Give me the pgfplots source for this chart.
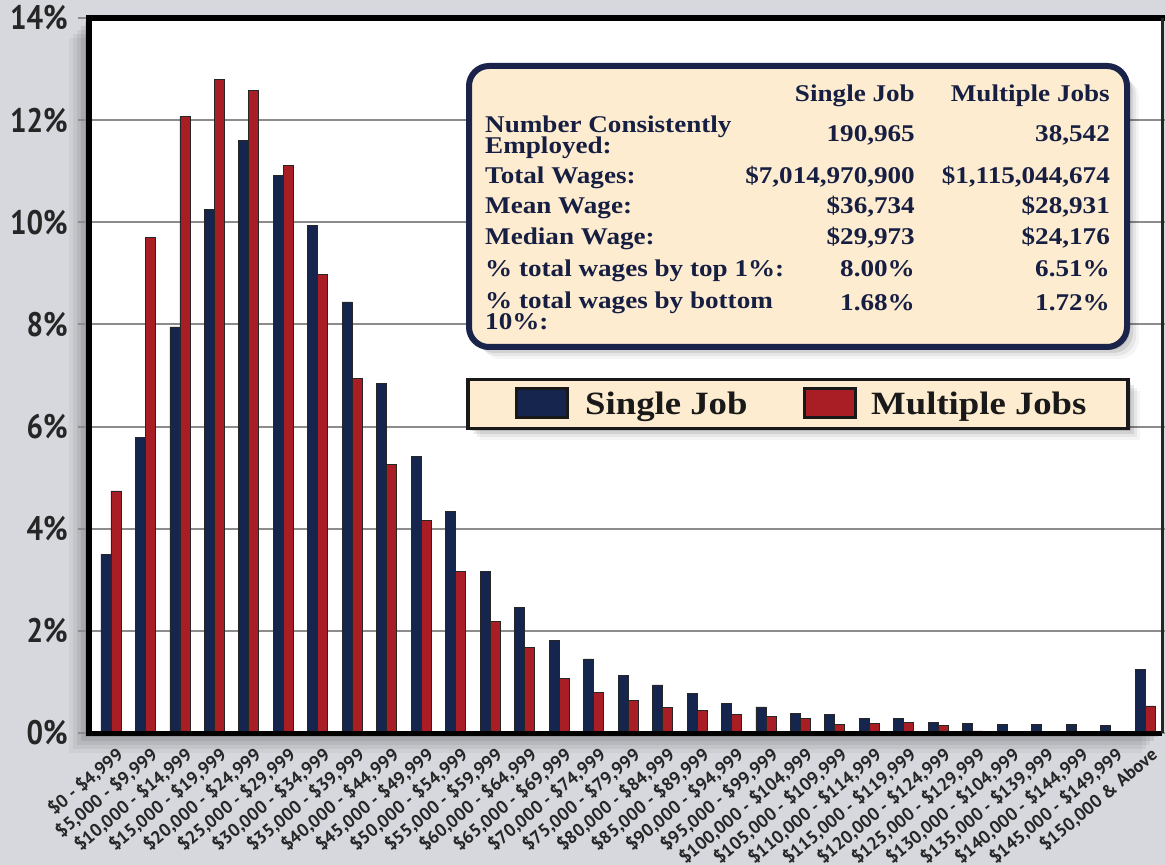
\documentclass[border=0pt]{standalone}
\usepackage{pgfplots}
\pgfplotsset{compat=1.18}
\usepackage{pgfplotstable}
\usepackage{fontspec}
\setmainfont{Liberation Serif}
\newfontfamily\tickfont{PT Sans}
\newfontfamily\ytickfont[FakeStretch=0.86]{PT Sans}
\newfontfamily\boxfont[FakeStretch=1.13]{Liberation Serif}
\definecolor{bg}{RGB}{214,216,221}
\definecolor{navybar}{RGB}{22,37,78}
\definecolor{redbar}{RGB}{168,30,36}
\definecolor{cream}{RGB}{253,236,208}
\definecolor{boxnavy}{RGB}{26,36,74}
\definecolor{txtnavy}{RGB}{22,30,66}
\definecolor{gridgray}{RGB}{140,140,140}

\pgfplotstableread{
x s m
0 3.50 4.74
1 5.78 9.70
2 7.95 12.07
3 10.26 12.80
4 11.61 12.59
5 10.92 11.11
6 9.93 8.97
7 8.44 6.95
8 6.84 5.26
9 5.41 4.16
10 4.34 3.17
11 3.17 2.19
12 2.46 1.68
13 1.82 1.07
14 1.45 0.80
15 1.12 0.63
16 0.94 0.50
17 0.77 0.44
18 0.57 0.37
19 0.51 0.32
20 0.39 0.28
21 0.36 0.17
22 0.29 0.18
23 0.29 0.20
24 0.20 0.14
25 0.18 0.04
26 0.17 0.02
27 0.16 0.02
28 0.16 0.02
29 0.14 0.02
30 1.25 0.53
}\datatable

\begin{document}
\begin{tikzpicture}
\useasboundingbox (0,0) rectangle (1165pt,865pt);
\fill[bg] (0,0) rectangle (1165pt,865pt);
% soft shadow of plot area
\foreach \d/\o in {4/0.10,8/0.08,12/0.06,16/0.05,20/0.04}{
  \fill[black,opacity=\o] ({89pt-\d pt},{132pt-\d pt}) rectangle ({1162pt-\d pt},{847pt-\d pt});
}
\begin{axis}[
  at={(89pt,132pt)}, anchor=south west,
  scale only axis, width=1073pt, height=715pt,
  xmin=-0.638, xmax=30.49, ymin=0, ymax=14,
  axis background/.style={fill=white},
  axis line style={draw=none},
  ybar=0pt, bar width=10pt,
  ymajorgrids, grid style={gridgray, line width=2pt},
  ytick={0,2,4,6,8,10,12,14},
  yticklabels={0\%,2\%,4\%,6\%,8\%,10\%,12\%,14\%},
  tick align=outside, major tick length=11pt,
  ytick style={gridgray, line width=2pt},
  xtick={0,...,30}, xtick style={draw=none},
  xticklabels={{\$0 - \$4,999},{\$5,000 - \$9,999},{\$10,000 - \$14,999},{\$15,000 - \$19,999},{\$20,000 - \$24,999},{\$25,000 - \$29,999},{\$30,000 - \$34,999},{\$35,000 - \$39,999},{\$40,000 - \$44,999},{\$45,000 - \$49,999},{\$50,000 - \$54,999},{\$55,000 - \$59,999},{\$60,000 - \$64,999},{\$65,000 - \$69,999},{\$70,000 - \$74,999},{\$75,000 - \$79,999},{\$80,000 - \$84,999},{\$85,000 - \$89,999},{\$90,000 - \$94,999},{\$95,000 - \$99,999},{\$100,000 - \$104,999},{\$105,000 - \$109,999},{\$110,000 - \$114,999},{\$115,000 - \$119,999},{\$120,000 - \$124,999},{\$125,000 - \$129,999},{\$130,000 - \$104,999},{\$135,000 - \$139,999},{\$140,000 - \$144,999},{\$145,000 - \$149,999},{\$150,000 \& Above}},
  x tick label style={font=\tickfont\bfseries\fontsize{18}{18}\selectfont, text=black!85, rotate=40, anchor=north east, xshift=2pt, yshift=-4pt, inner sep=0pt},
  y tick label style={font=\ytickfont\bfseries\fontsize{34}{34}\selectfont, text=black!85, anchor=east, inner sep=0pt, xshift=-10pt},
  clip=false,
]
\addplot[fill=navybar, draw=black!85, line width=0.8pt] table[x=x,y=s]{\datatable};
\addplot[fill=redbar, draw=black!85, line width=0.8pt] table[x=x,y=m]{\datatable};
\draw[black, line width=6pt, line cap=rect] (rel axis cs:0,0) -- (rel axis cs:0,1) -- (rel axis cs:1,1);
\draw[black, line width=5pt] (rel axis cs:0,0) -- (rel axis cs:1,0);
\draw[black!85, line width=3pt] (rel axis cs:1,0) -- (rel axis cs:1,1);
\end{axis}

\begin{scope}[x=1pt, y=-1pt, yshift=865pt,
  tb/.style={inner sep=0pt, text=txtnavy, font=\boxfont\bfseries\fontsize{24}{24}\selectfont},
  lg/.style={inner sep=0pt, text=black!90, font=\boxfont\bfseries\fontsize{32.5}{32.5}\selectfont}]
% table box
\foreach \d/\o in {3/0.12,6/0.09,9/0.06,12/0.04}{
  \fill[black,opacity=\o, rounded corners=20pt] ({469+\d},{66+\d}) rectangle ({1127+\d},{347+\d});
}
\draw[boxnavy, line width=6pt, fill=cream, rounded corners=20pt] (469,66) rectangle (1127,347);
\node[tb, anchor=base east] at (915,101.7) {Single Job};
\node[tb, anchor=base east] at (1110,101.7) {Multiple Jobs};
\node[tb, anchor=base west] at (485,132.7) {Number Consistently};
\node[tb, anchor=base west] at (485,153.3) {Employed:};
\node[tb, anchor=base east] at (915,141.7) {190,965};
\node[tb, anchor=base east] at (1110,141.7) {38,542};
\node[tb, anchor=base west] at (485,184) {Total Wages:};
\node[tb, anchor=base east] at (915,184) {\$7,014,970,900};
\node[tb, anchor=base east] at (1110,184) {\$1,115,044,674};
\node[tb, anchor=base west] at (485,214) {Mean Wage:};
\node[tb, anchor=base east] at (915,214) {\$36,734};
\node[tb, anchor=base east] at (1110,214) {\$28,931};
\node[tb, anchor=base west] at (485,244.5) {Median Wage:};
\node[tb, anchor=base east] at (915,244.5) {\$29,973};
\node[tb, anchor=base east] at (1110,244.5) {\$24,176};
\node[tb, anchor=base west] at (485,276.5) {\% total wages by top 1\%:};
\node[tb, anchor=base east] at (915,276.5) {8.00\%};
\node[tb, anchor=base east] at (1110,276.5) {6.51\%};
\node[tb, anchor=base west] at (485,309) {\% total wages by bottom};
\node[tb, anchor=base west] at (485,330) {10\%:};
\node[tb, anchor=base east] at (915,311) {1.68\%};
\node[tb, anchor=base east] at (1110,311) {1.72\%};
% legend
\foreach \d/\o in {3/0.12,6/0.09,9/0.06,12/0.04}{
  \fill[black,opacity=\o] ({468+\d},{379.5+\d}) rectangle ({1128+\d},{428.5+\d});
}
\draw[black!90, line width=3.5pt, fill=cream] (468,379.5) rectangle (1128,428.5);
\draw[black!90, line width=3pt, fill=navybar] (516,389) rectangle (567,418);
\node[lg, anchor=base west] at (585,414.3) {Single Job};
\draw[black!90, line width=3pt, fill=redbar] (804,389) rectangle (855,418);
\node[lg, anchor=base west] at (871,414.3) {Multiple Jobs};
\end{scope}
\end{tikzpicture}
\end{document}
